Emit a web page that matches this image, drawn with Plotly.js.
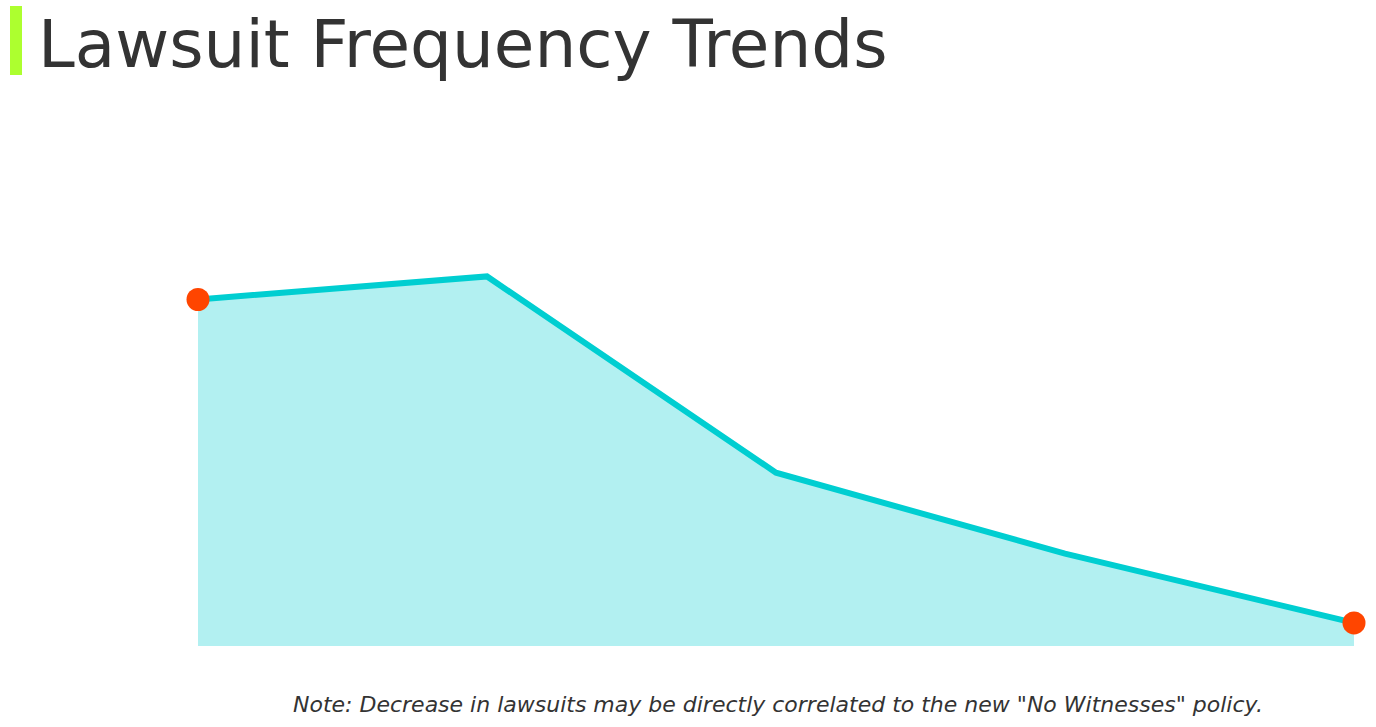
<!DOCTYPE html>
<html>
<head>
<meta charset="utf-8">
<script src="https://cdn.plot.ly/plotly-3.0.1.min.js"></script>
<style>
  html, body { margin: 0; padding: 0; background: #fff; }
  #chart { width: 1376px; height: 727px; }
</style>
</head>
<body>
<div id="chart"></div>
<script>
// periods along the x axis (no labels shown in the picture)
const periods = [0, 1, 2, 3, 4];
// lawsuit counts per period
const lawsuits = [15, 16, 7.5, 4, 1];
const titleText = 'Lawsuit Frequency Trends';
const noteText = 'Note: Decrease in lawsuits may be directly correlated to the new "No Witnesses" policy.';

// only first and last points get a marker
const ends = [0, periods.length - 1];

const area = {
    x: periods,
    y: lawsuits,
    type: 'scatter',
    mode: 'lines',
    fill: 'tozeroy',
    fillcolor: 'rgba(0,206,209,0.3)',
    line: { color: '#00CED1', width: 6 },
    hoverinfo: 'skip'
};

const endDots = {
    x: ends.map(i => periods[i]),
    y: ends.map(i => lawsuits[i]),
    type: 'scatter',
    mode: 'markers',
    marker: { color: '#FF4500', size: 23 },
    cliponaxis: false
};

const layout = {
    width: 1376,
    height: 727,
    margin: { l: 198, r: 22, t: 184, b: 81 },
    paper_bgcolor: '#fff',
    plot_bgcolor: '#fff',
    showlegend: false,
    title: {
        text: titleText,
        font: { family: '"DejaVu Sans", sans-serif', size: 66, color: '#333333' },
        x: 38 / 1376,
        xanchor: 'left',
        xref: 'container',
        yref: 'container',
        y: 1 - 44 / 727,
        yanchor: 'middle'
    },
    xaxis: { range: [0, 4], visible: false, fixedrange: true },
    yaxis: { range: [0, 20], visible: false, fixedrange: true },
    shapes: [{
        type: 'rect',
        xref: 'paper', yref: 'paper',
        x0: (10 - 198) / 1156, x1: (22 - 198) / 1156,
        y0: (646 - 75) / 462, y1: (646 - 6) / 462,
        fillcolor: '#ADFF2F',
        line: { width: 0 }
    }],
    annotations: [{
        text: '<i>' + noteText + '</i>',
        xref: 'paper', yref: 'paper',
        x: 0.5017, y: (646 - 704) / 462,
        xanchor: 'center', yanchor: 'middle',
        showarrow: false,
        font: { family: '"DejaVu Sans", sans-serif', size: 22, color: '#333333' }
    }]
};

Plotly.newPlot('chart', [area, endDots], layout, { displayModeBar: false, staticPlot: true });
</script>
</body>
</html>
